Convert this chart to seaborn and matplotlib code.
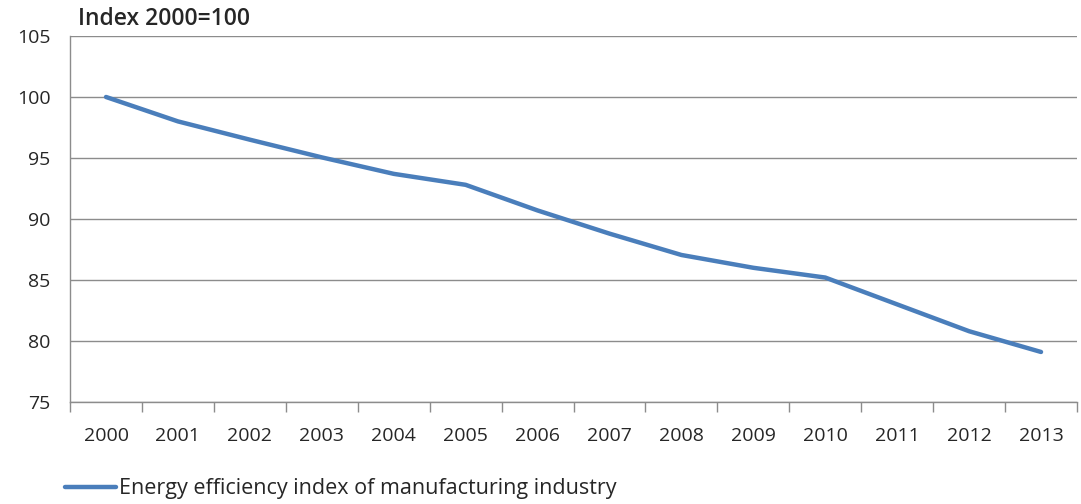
import matplotlib
matplotlib.use("Agg")
import matplotlib.pyplot as plt
import pandas as pd
import seaborn as sns

# values
years = [str(y) for y in range(2000, 2014)]
index_values = [100.0, 98.0, 96.5, 95.05, 93.7, 92.8, 90.7,
                88.8, 87.05, 86.0, 85.2, 83.0, 80.8, 79.1]
series_name = "Energy efficiency index of manufacturing industry"

df = pd.DataFrame({"year": years, "value": index_values, "series": series_name})

sns.set_theme(style="white")
plt.rcParams['font.family'] = ['Open Sans', 'DejaVu Sans']

fig = plt.figure(figsize=(10.81, 5.04), dpi=100)
ax = fig.add_axes([0.0648, 0.2024, 0.9315, 0.7262])

x = list(range(len(years)))
sns.lineplot(x=x, y=df["value"], ax=ax, color="#4A7EBB", linewidth=3.2,
             label=series_name, legend=False)

ax.set_xlim(-0.5, len(years) - 0.5)
ax.set_ylim(75, 105)
ax.set_yticks(range(75, 106, 5))
ax.yaxis.grid(True, color="#8c8c8c", linewidth=1.0)
ax.set_axisbelow(True)

ax.set_xticks(x)
ax.set_xticklabels(years, fontsize=14)
ax.set_xticks([i - 0.5 for i in range(len(years) + 1)], minor=True)
ax.tick_params(axis="x", which="major", length=0, pad=18)
ax.tick_params(axis="x", which="minor", length=7, color="#8c8c8c", width=1, direction="out")
ax.tick_params(axis="y", length=6, color="#8c8c8c", width=1, direction="out", labelsize=14, pad=8)
ax.tick_params(bottom=True, which="both")

for side in ["top", "right"]:
    ax.spines[side].set_visible(False)
for side in ["left", "bottom"]:
    ax.spines[side].set_color("#8c8c8c")
    ax.spines[side].set_linewidth(1.0)

ax.set_xlabel("")
ax.set_ylabel("")

fig.text(0.072, 0.962, "Index 2000=100", fontsize=16.5, fontweight="semibold", va="center")

handles, labels = ax.get_legend_handles_labels()
fig.legend(handles, labels, loc="center left", bbox_to_anchor=(0.042, 0.03),
           frameon=False, fontsize=15.5, handlelength=2.4, handletextpad=0.1)

fig.savefig("out.png", dpi=100)
